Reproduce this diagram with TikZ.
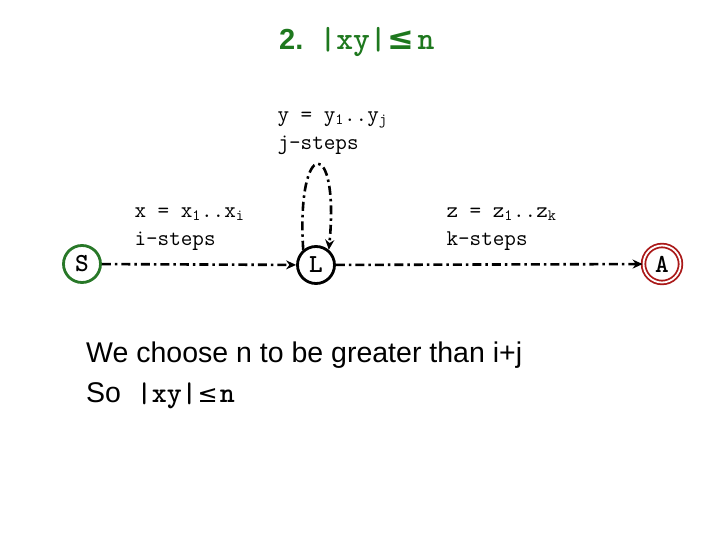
\documentclass[tikz,border=0pt]{standalone}
\usepackage{fontspec}
\setmainfont{Liberation Sans}
\newfontfamily\symfont{DejaVu Sans}
\usetikzlibrary{arrows.meta}
\definecolor{titlegreen}{RGB}{30,120,30}
\definecolor{startgreen}{RGB}{40,120,40}
\definecolor{acceptred}{RGB}{170,25,25}
\tikzset{
	state/.style={circle, draw, line width=2.8pt, minimum size=37pt, inner sep=0pt, font=\ttfamily\bfseries\fontsize{26}{26}\selectfont},
	edge/.style={line width=2.6pt, dash pattern=on 9pt off 4pt on 2.5pt off 4pt, -{Stealth[length=10pt,width=9pt]}},
	steplabel/.style={anchor=west, align=left, font=\ttfamily\fontsize{22.5}{28}\selectfont}
}
\begin{document}
\begin{tikzpicture}[x=1pt,y=-1pt]
			\useasboundingbox (0,0) rectangle (721,541);
			\newcommand{\mysub}[1]{\textsubscript{#1}}
			%Title
			\node [anchor=west, text=titlegreen, inner sep=0pt] (title) at (279,42) {\fontsize{29}{29}\selectfont\bfseries 2.\ \ {\ttfamily\fontsize{32}{32}\selectfont |xy|\kern1pt{\symfont ≤}\kern3pt n}};
			%States
			\node [state, draw=startgreen] (S) at (82,264) {S};
			\node [state] (L) at (316,265) {L};
			\node [state, draw=acceptred, double=white, double distance=1.8pt, line width=1.8pt] (A) at (662,264) {A};
			%Transitions
			\draw [edge] (S) -- (L);
			\draw [edge] (L) -- (A);
			\draw [edge] (L.130) .. controls (296,136) and (340,136) .. (L.50);
			%Labels of the transitions
			\node [steplabel] (xlabel) at (131,229) {x = x\mysub{1}..x\mysub{i}\\i-steps};
			\node [steplabel] (ylabel) at (274,133) {y = y\mysub{1}..y\mysub{j}\\j-steps};
			\node [steplabel] (zlabel) at (443,229) {z = z\mysub{1}..z\mysub{k}\\k-steps};
			%The text below
			\node [anchor=west, align=left, inner sep=0pt, font=\fontsize{28.5}{40}\selectfont] (note) at (86,375) {We choose n to be greater than i+j\\So\ \ {\ttfamily\bfseries |xy|\kern1pt{\mdseries\symfont\fontsize{24}{24}\selectfont ≤}\kern2pt n}};
\end{tikzpicture}
\end{document}
